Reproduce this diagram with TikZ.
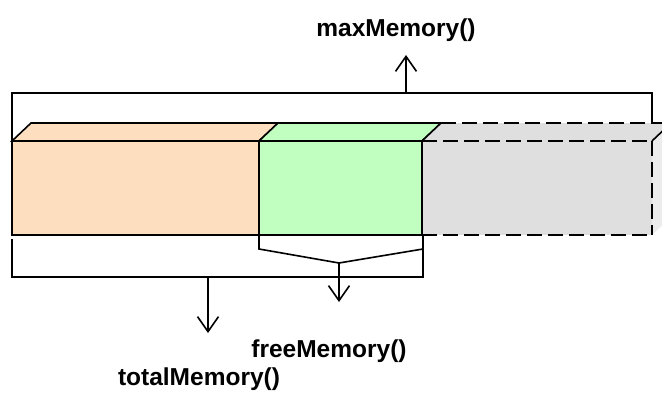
\documentclass[tikz,border=0pt]{standalone}
\usepackage{fontspec}
\setmainfont{Liberation Sans}
\usetikzlibrary{arrows.meta}
\definecolor{peach}{RGB}{253,223,192}
\definecolor{mint}{RGB}{192,255,192}
\definecolor{lgrey}{RGB}{223,223,223}
\definecolor{sgrey}{RGB}{236,236,236}
\begin{document}
\begin{tikzpicture}[x=1pt,y=-1pt,line width=1.6pt,
  edge/.style={draw=black,line width=1.6pt},
  dashedge/.style={draw=black,line width=1.6pt,dash pattern=on 15pt off 6pt},
  arr/.style={edge,-{Straight Barb[length=15pt,width=21pt,line width=1.6pt]}},
  lbl/.style={font=\bfseries\fontsize{24.5}{29}\selectfont,inner sep=0pt,anchor=base}]
\useasboundingbox (0,0) rectangle (662,394);
% maxMemory bracket (behind the boxes)
\coordinate (mxa) at (12,235);
\coordinate (mxb) at (652,235);
\coordinate (mxmid) at (406,93);
\draw[edge] (mxa) -- (12,93) -- (652,93) -- (mxb);
% orange block
\filldraw[edge,fill=peach] (12,141) rectangle (259,235);
\filldraw[edge,fill=peach] (12,141) -- (31,123) -- (278,123) -- (259,141) -- cycle;
% green block
\filldraw[edge,fill=mint] (259,141) rectangle (422,235);
\filldraw[edge,fill=mint] (259,141) -- (278,123) -- (441,123) -- (422,141) -- cycle;
% grey dashed block
\fill[lgrey] (422,141) rectangle (652,235);
\fill[lgrey] (422,141) -- (441,123) -- (671,123) -- (652,141) -- cycle;
\fill[sgrey] (652,141) -- (671,123) -- (671,217) -- (652,235) -- cycle;
\draw[dashedge] (441,123) -- (671,123);
\draw[dashedge] (422,141) -- (652,141);
\draw[dashedge] (422,235) -- (652,235);
\draw[dashedge] (652,141) -- (652,235);
\draw[dashedge] (652,141) -- (671,123);
\draw[edge] (422,141) -- (441,123);
\draw[edge] (422,141) -- (422,235);
% freeMemory bracket
\coordinate (fmv) at (339,263);
\draw[edge] (259,235) -- (259,249) -- (fmv) -- (423,249) -- (423,235);
% totalMemory bracket
\coordinate (tmv) at (208,277);
\draw[edge] (423,235) -- (423,277) -- (12,277) -- (12,239);
% labels
\node[lbl] (maxl) at (396,36) {maxMemory()};
\node[lbl] (freel) at (329,357) {freeMemory()};
\node[lbl] (totall) at (199,385) {totalMemory()};
\coordinate (mxtip) at (406,55);
\coordinate (fmtip) at (339,302);
\coordinate (tmtip) at (208,333);
\draw[arr] (mxmid) -- (mxtip);
\draw[arr] (fmv) -- (fmtip);
\draw[arr] (tmv) -- (tmtip);
\end{tikzpicture}
\end{document}
